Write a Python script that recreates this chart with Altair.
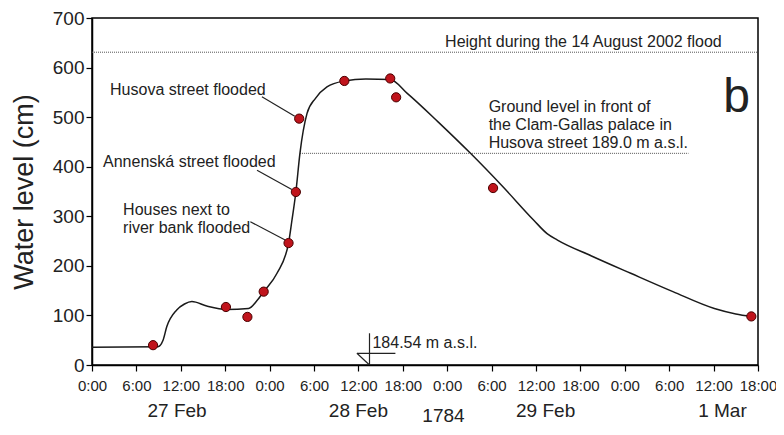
import altair as alt
import pandas as pd

FONT = "Liberation Sans"

# Smoothed hydrograph (hours since 27 Feb 1784 0:00, water level in cm)
curve_hours = [0, 8.9, 9.6, 10.1, 11.45, 12.5, 13.5, 15.5, 18.2, 21.15, 22.3, 23.2, 25.0,
               26.56, 27.0, 27.55, 28.1, 29.05, 30.2, 31.75, 34.1, 37.0, 40.3, 42.6, 46.8,
               51.15, 55.5, 59.7, 61.5, 62.9, 67.5, 72.8, 78.5, 84.1, 87.0, 89.1]
curve_levels = [36, 37, 50, 77, 111, 123, 128, 119, 112, 114, 130, 148, 185,
                246, 290, 349, 427, 507, 538, 561, 573, 577, 576, 548, 490,
                427, 360, 292, 265, 252, 220, 185, 148, 114, 103, 98]

# Observed levels (red dots)
obs_hours = [8.25, 18.1, 21.0, 23.2, 26.56, 27.55, 28.0, 34.1, 40.3, 41.1, 54.2, 89.1]
obs_levels = [40, 117, 97, 148, 246, 349, 497, 573, 578, 540, 357, 98]

# Dotted reference levels
ref_start = [0, 28.1]
ref_end = [90, 80.6]
ref_levels = [631, 427]

# Leader lines and gauge symbol
seg_h1 = [22.96, 22.3, 21.4, 35.8, 35.8, 37.5]
seg_v1 = [541, 393, 289, 23.6, 23.6, 0]
seg_h2 = [27.4, 27.0, 26.1, 41.0, 37.5, 37.5]
seg_v2 = [502, 354, 252, 23.6, 0, 64]

# Annotation texts
note_texts = ["Husova street flooded", "Annenská street flooded", "184.54 m a.s.l."]
note_hours = [2.44, 1.49, 37.9]
note_levels = [554, 409, 44]

block_texts = ["Houses next to\nriver bank flooded",
               "Ground level in front of\nthe Clam-Gallas palace in\nHusova street 189.0 m a.s.l."]
block_hours = [4.2, 53.6]
block_levels = [329, 536]

flood_text = ["Height during the 14 August 2002 flood"]
flood_hour = [85.1]
flood_level = [651]

panel_text = ["b"]
panel_hour = [87.1]
panel_level = [510]

date_texts = ["27 Feb", "28 Feb", "29 Feb", "1 Mar", "1784"]
date_hours = [11.5, 36.0, 61.3, 85.2, 47.5]
date_levels = [-92, -92, -92, -92, -103]

tick_hours = list(range(0, 91, 6))
tick_levels = list(range(0, 701, 100))

x_scale = alt.Scale(domain=[0, 90], nice=False, zero=False)
y_scale = alt.Scale(domain=[0, 700], nice=False, zero=False)

X = alt.X("hour:Q", scale=x_scale,
          axis=alt.Axis(values=tick_hours, labelExpr="(datum.value % 24) + ':00'",
                        title=None, grid=False, labelFontSize=15, labelFont=FONT,
                        labelColor="#222", tickSize=6, labelPadding=7, labelFlush=False,
                        labelOverlap=False, domainColor="black", tickColor="black",
                        domainWidth=1.5, tickWidth=1.2))
Y = alt.Y("level:Q", scale=y_scale,
          axis=alt.Axis(values=tick_levels, title="Water level (cm)", grid=False,
                        labelFontSize=19, labelFont=FONT, labelColor="#222",
                        titleFont=FONT, titleFontSize=27, titleFontWeight="normal",
                        titleColor="#222", titlePadding=14, tickSize=6, labelPadding=2,
                        domainColor="black", tickColor="black", domainWidth=1.5,
                        tickWidth=1.2))

curve_df = pd.DataFrame({"hour": curve_hours, "level": curve_levels})
obs_df = pd.DataFrame({"hour": obs_hours, "level": obs_levels})
ref_df = pd.DataFrame({"hour": ref_start, "hour2": ref_end, "level": ref_levels})
seg_df = pd.DataFrame({"hour": seg_h1, "level": seg_v1, "hour2": seg_h2, "level2": seg_v2})
note_df = pd.DataFrame({"hour": note_hours, "level": note_levels, "label": note_texts})
block_df = pd.DataFrame({"hour": block_hours, "level": block_levels, "label": block_texts})
flood_df = pd.DataFrame({"hour": flood_hour, "level": flood_level, "label": flood_text})
panel_df = pd.DataFrame({"hour": panel_hour, "level": panel_level, "label": panel_text})
date_df = pd.DataFrame({"hour": date_hours, "level": date_levels, "label": date_texts})

ref = alt.Chart(ref_df).mark_rule(color="#555", strokeWidth=1, strokeDash=[1, 1]).encode(
    x=X, x2="hour2:Q", y=Y)
segs = alt.Chart(seg_df).mark_rule(color="#222", strokeWidth=1.2).encode(
    x=X, x2="hour2:Q", y=Y, y2="level2:Q")
line = alt.Chart(curve_df).mark_line(color="#1a1a1a", strokeWidth=1.5,
                                     interpolate="monotone").encode(x=X, y=Y)
pts = alt.Chart(obs_df).mark_point(filled=True, shape="circle", size=85, color="#c0141c",
                                   stroke="#4a0000", strokeWidth=1, opacity=1).encode(x=X, y=Y)
notes = alt.Chart(note_df).mark_text(align="left", baseline="middle", font=FONT,
                                     fontSize=16, color="#222").encode(x=X, y=Y, text="label:N")
blocks = alt.Chart(block_df).mark_text(align="left", baseline="top", font=FONT, fontSize=16,
                                       lineBreak="\n", lineHeight=18, color="#222").encode(
    x=X, y=Y, text="label:N")
flood = alt.Chart(flood_df).mark_text(align="right", baseline="middle", font=FONT,
                                      fontSize=16, color="#222").encode(x=X, y=Y, text="label:N")
panel = alt.Chart(panel_df).mark_text(align="center", baseline="alphabetic", font=FONT,
                                      fontSize=48, color="#222").encode(x=X, y=Y, text="label:N")
dates = alt.Chart(date_df).mark_text(align="center", baseline="middle", font=FONT,
                                     fontSize=19, color="#222").encode(x=X, y=Y, text="label:N")

chart = alt.layer(ref, segs, line, pts, notes, blocks, flood, panel, dates).properties(
    width=666, height=347,
    autosize=alt.AutoSizeParams(type="none"),
    padding={"left": 84, "top": 10, "right": 18, "bottom": 62},
    background="white",
).configure_view(stroke="black", strokeWidth=1.5)

chart.save("out.html", embed_options={"renderer": "svg", "actions": False})
